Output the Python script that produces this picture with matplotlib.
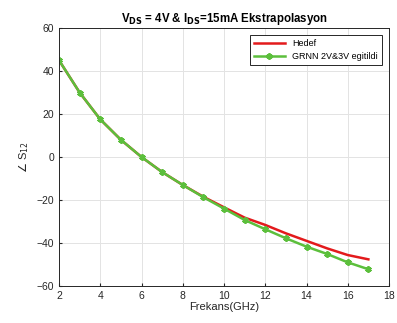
import matplotlib
matplotlib.use("Agg")
import matplotlib.pyplot as plt
import numpy as np

plt.rcParams['font.family'] = ['Liberation Sans', 'DejaVu Sans']

freq = np.arange(2, 18)
hedef = [45, 30, 17.5, 8, 0, -7, -13, -18.5, -23.4, -28.2, -31.6, -35.5, -39, -42.5, -45.6, -47.6]
grnn = [45, 30, 17.5, 8, 0, -7, -13, -18.7, -24, -29.3, -33.6, -37.8, -41.7, -45.1, -49, -52.2]

fig = plt.figure(figsize=(3.97, 3.23), dpi=100)
ax = fig.add_axes([59/397, 1 - 286/323, 330/397, 258/323])

ax.plot(freq, hedef, color='#e31a1c', linewidth=1.8, label='Hedef')
ax.plot(freq, grnn, color='#5cbf3c', linewidth=1.8, marker=(6, 2, 0), markersize=4.5,
        markeredgewidth=1.5, label='GRNN 2V&3V egitildi')

ax.set_xlim(2, 18)
ax.set_ylim(-60, 60)
ax.set_xticks(range(2, 19, 2))
ax.set_yticks(range(-60, 61, 20))
ax.grid(True, color='#e3e3e3', linewidth=0.7)
ax.set_axisbelow(True)
ax.tick_params(labelsize=7.5, colors='#262626', length=2, direction='in')
for s in ax.spines.values():
    s.set_color('#262626')
    s.set_linewidth(0.7)

ax.set_xlabel('Frekans(GHz)', fontsize=8, color='#262626', labelpad=1)
ax.set_ylabel(r'$\angle$ S$_{12}$', fontsize=8, color='#262626', labelpad=4)
ax.set_title(r'V$_{\mathbf{DS}}$ = 4V & I$_{\mathbf{DS}}$=15mA Ekstrapolasyon',
             fontsize=8.3, fontweight='bold', pad=4)

leg = ax.legend(loc='upper right', fontsize=6.5, fancybox=False, framealpha=1,
                edgecolor='#262626', borderaxespad=0.8, handlelength=3.5)
leg.get_frame().set_linewidth(0.7)

fig.savefig('out.png', dpi=100)
